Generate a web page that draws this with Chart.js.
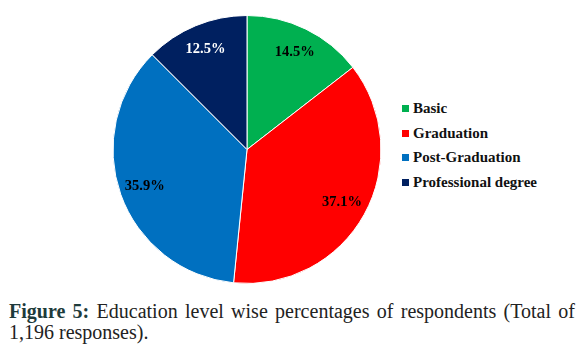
<!DOCTYPE html>
<html>
<head>
<meta charset="utf-8">
<script src="https://cdn.jsdelivr.net/npm/chart.js@4/dist/chart.umd.min.js"></script>
<style>
  body { margin: 0; background: #fff; width: 583px; height: 351px; overflow: hidden; position: relative; }
  #pieBox { position: absolute; left: 112px; top: 15px; width: 270px; height: 269px; }
  #legend { position: absolute; left: 402px; top: 96px; font-family: "Liberation Serif", "Times New Roman", serif; font-weight: bold; font-size: 15px; color: #111; }
  #legend div { height: 24.5px; line-height: 24px; white-space: nowrap; }
  #legend span { display: inline-block; width: 7px; height: 7px; margin-right: 4px; vertical-align: 1px; }
  #caption { position: absolute; left: 9px; top: 301px; width: 566px; font-family: "Liberation Serif", "Times New Roman", serif; font-size: 20px; line-height: 21px; color: #222; }
  #caption .l1 { text-align: justify; text-align-last: justify; white-space: nowrap; }
  #caption b { color: #1e3b3b; }
</style>
</head>
<body>
<div id="pieBox"><canvas id="myPieChart"></canvas></div>
<div id="legend"></div>
<div id="caption"><div class="l1"><b>Figure 5:</b> Education level wise percentages of respondents (Total of</div><div>1,196 responses).</div></div>
<script>
// datos
var categorias = ['Basic', 'Graduation', 'Post-Graduation', 'Professional degree'];
var porcentajes = [14.5, 37.1, 35.9, 12.5];

var colores = ['#00B050', '#FF0000', '#0070C0', '#002060'];
var coloresTexto = ['#000', '#000', '#000', '#fff'];

// leyenda en html
var leyenda = document.getElementById('legend');
for (var i = 0; i < categorias.length; i++) {
    var fila = document.createElement('div');
    fila.innerHTML = '<span style="background:' + colores[i] + '"></span>' + categorias[i];
    leyenda.appendChild(fila);
}

// etiquetas de porcentaje dentro de cada porcion
var etiquetas = {
    id: 'etiquetas',
    afterDatasetsDraw: function(chart) {
        var ctx = chart.ctx;
        var arcos = chart.getDatasetMeta(0).data;
        ctx.save();
        ctx.font = 'bold 14.5px "Liberation Serif", serif';
        ctx.textAlign = 'center';
        ctx.textBaseline = 'middle';
        arcos.forEach(function(arco, j) {
            var mitad = (arco.startAngle + arco.endAngle) / 2;
            var r = arco.outerRadius * 0.81;
            ctx.fillStyle = coloresTexto[j];
            ctx.fillText(porcentajes[j].toFixed(1) + '%', arco.x + Math.cos(mitad) * r, arco.y + Math.sin(mitad) * r);
        });
        ctx.restore();
    }
};

var torta = document.getElementById('myPieChart');
var myPieChart = new Chart(torta, {
    type: 'pie',
    data: {
        labels: categorias,
        datasets: [{
            data: porcentajes,
            backgroundColor: colores,
            borderColor: '#fff',
            borderWidth: 1
        }]
    },
    options: {
        responsive: true,
        maintainAspectRatio: false,
        animation: false,
        layout: { padding: 0 },
        plugins: {
            legend: { display: false },
            tooltip: { enabled: false }
        }
    },
    plugins: [etiquetas]
});
</script>
</body>
</html>
